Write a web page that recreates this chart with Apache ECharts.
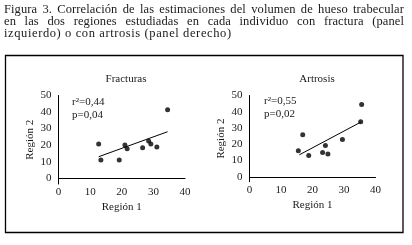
<!DOCTYPE html>
<html>
<head>
<meta charset="utf-8">
<script src="https://cdn.jsdelivr.net/npm/echarts@6/dist/echarts.min.js"></script>
<style>
  html, body { margin: 0; padding: 0; background: #fff; }
  #chart { position: absolute; left: 0; top: 0; width: 412px; height: 245px; }
  #caption {
    position: absolute; left: 4px; top: 3px; width: 400px;
    font-family: "Liberation Serif", serif; font-size: 12.5px; line-height: 12.2px;
    letter-spacing: 0.6px; color: #1a1a1a; white-space: nowrap;
  }
  #caption div.j { text-align: justify; text-align-last: justify; letter-spacing: 0.1px; }
</style>
</head>
<body>
<div id="chart"></div>
<div id="caption">
  <div class="j">Figura 3. Correlación de las estimaciones del volumen de hueso trabecular</div>
  <div class="j">en las dos regiones estudiadas en cada individuo con fractura (panel</div>
  <div>izquierdo) o con artrosis (panel derecho)</div>
</div>
<script>
// Región 1 (x), Región 2 (y)
var fracturasPoints = [
  [12.7, 20.7], [13.4, 11.0], [19.2, 11.0], [21.0, 20.1], [21.7, 17.8],
  [26.6, 18.4], [28.5, 22.5], [29.2, 20.7], [31.1, 18.9], [34.5, 41.4]
];
var fracturasFit = [[12.7, 13.0], [34.5, 28.1]];

var artrosisPoints = [
  [15.5, 16.1], [16.9, 25.8], [18.8, 13.1], [23.2, 14.9], [24.1, 19.2],
  [24.9, 14.1], [29.5, 22.9], [35.3, 33.9], [35.6, 44.4]
];
var artrosisFit = [[15.8, 13.5], [35.3, 33.6]];

var yTicks = [0, 10, 20, 30, 40, 50];
var panelTitles = ['Fracturas', 'Artrosis'];
var statsText = ['r²=0,44\np=0,04', 'r²=0,55\np=0,02'];

var font = 'Liberation Serif';
var ink = '#1a1a1a';

function xAxisFor(gridIndex) {
  return {
    gridIndex: gridIndex,
    type: 'value',
    min: 0,
    max: 40,
    interval: 10,
    name: 'Región 1',
    nameLocation: 'middle',
    nameGap: 18,
    nameTextStyle: { fontFamily: font, fontSize: 11, color: ink },
    axisLine: { lineStyle: { color: '#000', width: 1 } },
    axisTick: { show: false },
    splitLine: { show: false },
    axisLabel: { fontFamily: font, fontSize: 11, color: ink, margin: 3 }
  };
}

function yAxisFor(gridIndex, min) {
  return {
    gridIndex: gridIndex,
    type: 'value',
    min: min,
    max: 50,
    name: 'Región 2',
    nameLocation: 'middle',
    nameGap: 23,
    nameRotate: 90,
    nameTextStyle: { fontFamily: font, fontSize: 11, color: ink },
    axisLine: { show: true, onZero: false, lineStyle: { color: '#000', width: 1 } },
    axisTick: { show: false },
    splitLine: { show: false },
    axisLabel: { fontFamily: font, fontSize: 11, color: ink, margin: 7, customValues: yTicks }
  };
}

var chart = echarts.init(document.getElementById('chart'));

var option = {
  backgroundColor: '#fff',
  animation: false,
  title: [
    { text: panelTitles[0], left: 121, top: 69, textAlign: 'center',
      textStyle: { fontFamily: font, fontSize: 11, fontWeight: 'normal', color: ink } },
    { text: panelTitles[1], left: 312, top: 69, textAlign: 'center',
      textStyle: { fontFamily: font, fontSize: 11, fontWeight: 'normal', color: ink } }
  ],
  grid: [
    { left: 58.5, top: 95.5, width: 126.5, height: 88.5 },
    { left: 249.5, top: 95.5, width: 126, height: 86.2 }
  ],
  xAxis: [xAxisFor(0), xAxisFor(1)],
  yAxis: [yAxisFor(0, -3.5), yAxisFor(1, -3)],
  graphic: [
    { type: 'rect', shape: { x: 5.5, y: 55.5, width: 397.5, height: 177 },
      style: { fill: 'none', stroke: '#000', lineWidth: 1.3 } },
    { type: 'text', left: 72, top: 96,
      style: { text: statsText[0], font: '11px "Liberation Serif"', fill: ink, lineHeight: 13 } },
    { type: 'text', left: 264, top: 95,
      style: { text: statsText[1], font: '11px "Liberation Serif"', fill: ink, lineHeight: 12.5 } }
  ],
  series: [
    { type: 'scatter', xAxisIndex: 0, yAxisIndex: 0, data: fracturasPoints,
      symbolSize: 5, itemStyle: { color: '#000' } },
    { type: 'line', xAxisIndex: 0, yAxisIndex: 0, data: fracturasFit,
      symbol: 'none', lineStyle: { color: '#000', width: 1 } },
    { type: 'scatter', xAxisIndex: 1, yAxisIndex: 1, data: artrosisPoints,
      symbolSize: 5, itemStyle: { color: '#000' } },
    { type: 'line', xAxisIndex: 1, yAxisIndex: 1, data: artrosisFit,
      symbol: 'none', lineStyle: { color: '#000', width: 1 } }
  ]
};

chart.setOption(option);
</script>
</body>
</html>
